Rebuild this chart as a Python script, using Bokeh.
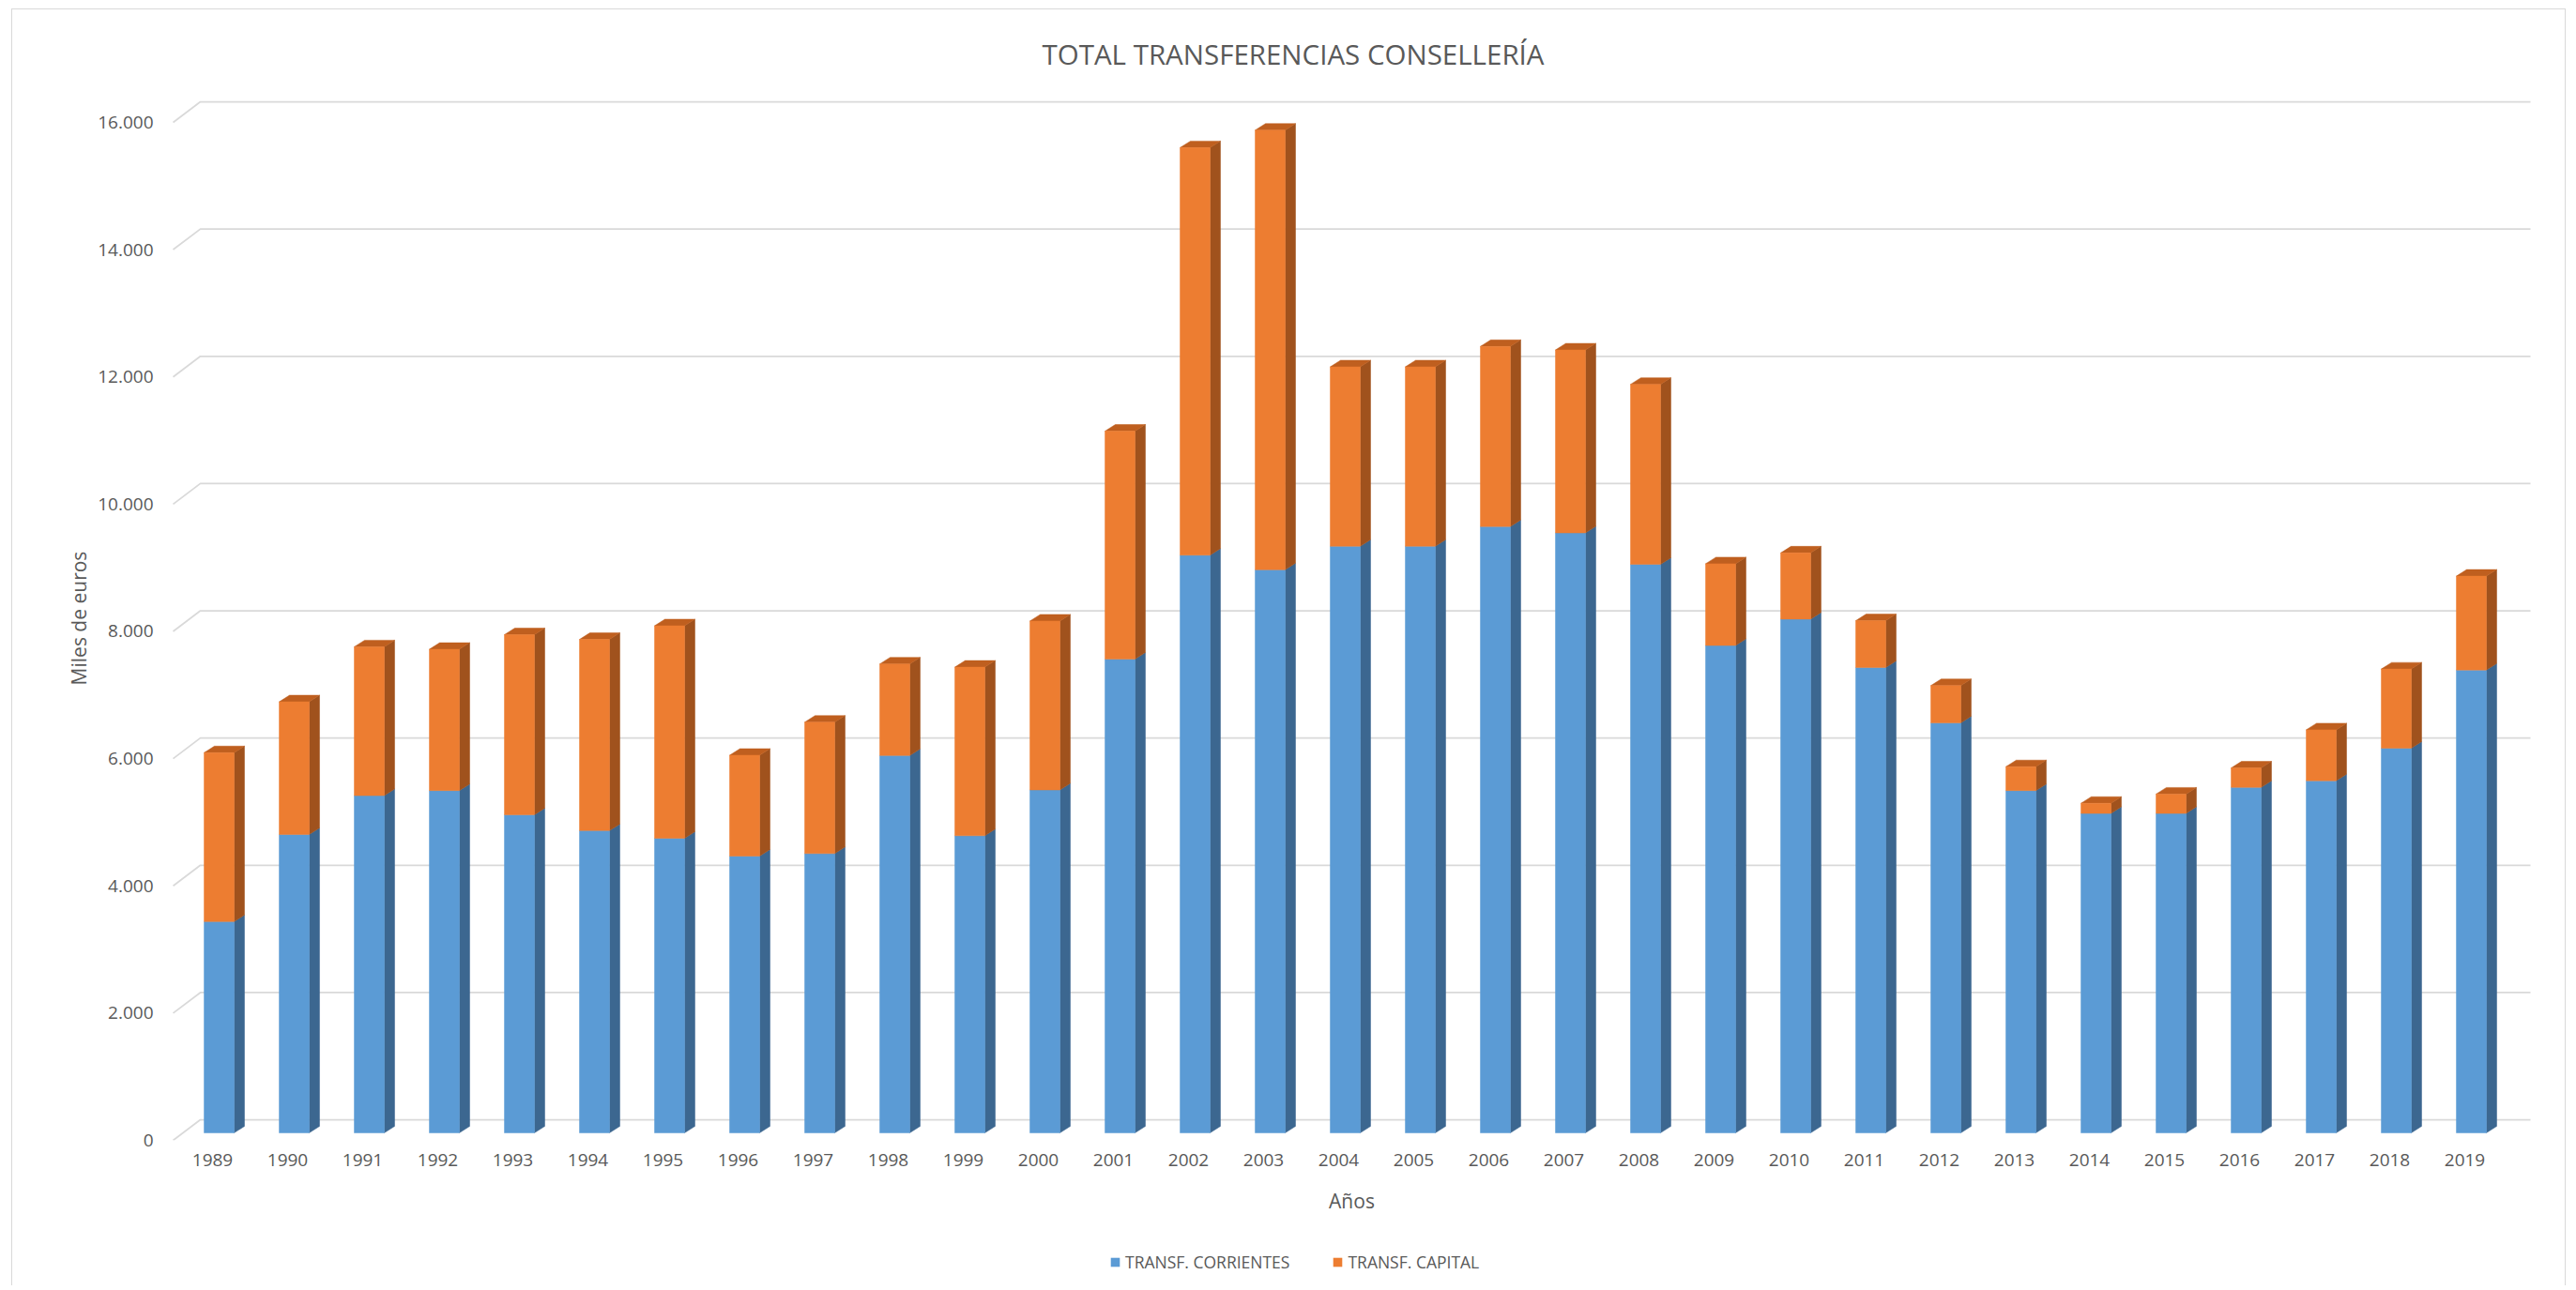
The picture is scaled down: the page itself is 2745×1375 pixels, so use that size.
from bokeh.plotting import figure
from bokeh.layouts import column
from bokeh.models import FixedTicker, Legend, LegendItem, Range1d, ColumnDataSource
from bokeh.embed import file_html
from bokeh.resources import INLINE

# ---------------- data ----------------
years = ["1989", "1990", "1991", "1992", "1993", "1994", "1995", "1996", "1997", "1998",
         "1999", "2000", "2001", "2002", "2003", "2004", "2005", "2006", "2007", "2008",
         "2009", "2010", "2011", "2012", "2013", "2014", "2015", "2016", "2017", "2018", "2019"]
corrientes = [3320, 4690, 5300, 5380, 5000, 4750, 4630, 4350, 4390, 5930,
              4670, 5390, 7445, 9080, 8850, 9220, 9220, 9530, 9430, 8935,
              7660, 8075, 7315, 6445, 5380, 5020, 5020, 5430, 5535, 6045, 7275]
capital = [2655, 2085, 2340, 2220, 2830, 3005, 3340, 1585, 2065, 1440,
           2650, 2655, 3585, 6405, 6910, 2820, 2820, 2830, 2875, 2830,
           1285, 1040, 735, 585, 375, 160, 305, 305, 800, 1245, 1475]
y_ticks = [0, 2000, 4000, 6000, 8000, 10000, 12000, 14000, 16000]
y_tick_labels = ["0", "2.000", "4.000", "6.000", "8.000", "10.000", "12.000", "14.000", "16.000"]
series_names = ["TRANSF. CORRIENTES", "TRANSF. CAPITAL"]
chart_title = "TOTAL TRANSFERENCIAS CONSELLERÍA"

# ---------------- styling / 3D geometry (data units) ----------------
BLUE, BLUE_SIDE = "#5B9BD5", "#3C6790"
ORANGE, ORANGE_SIDE, ORANGE_TOP = "#ED7D31", "#A0521D", "#BF5F1F"
GRID = "#D9D9D9"
TXT = "#595959"
FONT = "Open Sans"

X0, X1 = -0.55, 30.9
Y0, Y1 = 0, 16412
WALL_DX, WALL_DY = 0.3625, 323.5     # depth of back wall
BAR_DX, BAR_DY = 0.1375, 103         # depth of each bar
BASE = 118                            # bar base in front of the wall
FL, FR = -0.1125, 0.2875              # front face extents around category

W = 2720
H_MAIN, H_LEG = 1310, 50

n = len(years)
xs = list(range(n))

p = figure(width=W, height=H_MAIN, output_backend="svg", toolbar_location=None,
           x_range=Range1d(X0, X1), y_range=Range1d(Y0, Y1),
           min_border_left=169, min_border_right=35, min_border_top=89, min_border_bottom=105,
           title=chart_title)
p.outline_line_color = None
p.xgrid.visible = False
p.ygrid.visible = False
p.background_fill_color = "white"

# title
p.title.align = "left"
p.title.text_font = FONT
p.title.text_font_size = "29.5px"
p.title.text_font_style = "normal"
p.title.text_color = TXT
p.title.standoff = 49
p.title.offset = 928

# back wall gridlines + left wall diagonals
gx, gy = [], []
for t in y_ticks:
    gx.append([X0 + 0.025, X0 + 0.025 + WALL_DX, 30.875])
    gy.append([t, t + WALL_DY, t + WALL_DY])
p.multi_line(gx, gy, line_color=GRID, line_width=1.75)

# bars
L = [x + FL for x in xs]
R = [x + FR for x in xs]
b0 = [BASE for _ in xs]
b1 = [BASE + c for c in corrientes]
b2 = [BASE + c + k for c, k in zip(corrientes, capital)]

src = ColumnDataSource(dict(L=L, R=R, b0=b0, b1=b1, b2=b2))

def side(bot, top):
    px, py = [], []
    for r, b, t in zip(R, bot, top):
        px.append([r, r + BAR_DX, r + BAR_DX, r])
        py.append([b, b + BAR_DY, t + BAR_DY, t])
    return px, py

sx, sy = side(b0, b1)
p.patches(sx, sy, fill_color=BLUE_SIDE, line_color=BLUE_SIDE, line_width=0.5)
sx, sy = side(b1, b2)
p.patches(sx, sy, fill_color=ORANGE_SIDE, line_color=ORANGE_SIDE, line_width=0.5)
tx, ty = [], []
for l, r, t in zip(L, R, b2):
    tx.append([l, l + BAR_DX, r + BAR_DX, r])
    ty.append([t, t + BAR_DY, t + BAR_DY, t])
p.patches(tx, ty, fill_color=ORANGE_TOP, line_color=ORANGE_TOP, line_width=0.5)

p.quad(left="L", right="R", bottom="b0", top="b1", source=src,
       fill_color=BLUE, line_color=BLUE, line_width=0.5)
p.quad(left="L", right="R", bottom="b1", top="b2", source=src,
       fill_color=ORANGE, line_color=ORANGE, line_width=0.5)

# axes
p.xaxis.ticker = FixedTicker(ticks=xs)
p.xaxis.major_label_overrides = {i: y for i, y in enumerate(years)}
p.yaxis.ticker = FixedTicker(ticks=y_ticks)
p.yaxis.major_label_overrides = {t: s for t, s in zip(y_ticks, y_tick_labels)}
for ax in (p.xaxis[0], p.yaxis[0]):
    ax.axis_line_color = None
    ax.major_tick_line_color = None
    ax.minor_tick_line_color = None
    ax.major_tick_out = 0
    ax.major_tick_in = 0
    ax.major_label_text_font = FONT
    ax.major_label_text_font_size = "19px"
    ax.major_label_text_color = TXT
    ax.axis_label_text_font = FONT
    ax.axis_label_text_font_size = "21px"
    ax.axis_label_text_font_style = "normal"
    ax.axis_label_text_color = TXT
p.xaxis.axis_label = "Años"
p.xaxis.major_label_standoff = 14
p.xaxis.axis_label_standoff = 20
p.yaxis.axis_label = "Miles de euros"
p.yaxis.major_label_standoff = 19
p.yaxis.axis_label_standoff = 3

# legend strip (separate small figure below the chart)
p2 = figure(width=W, height=H_LEG, output_backend="svg", toolbar_location=None,
            x_range=Range1d(0, W), y_range=Range1d(0, H_LEG),
            x_axis_location=None, y_axis_location=None, min_border=0)
p2.outline_line_color = None
p2.grid.visible = False
lb = p2.quad(left=[0], right=[0], bottom=[0], top=[0], fill_color=BLUE, line_color=None)
lo = p2.quad(left=[0], right=[0], bottom=[0], top=[0], fill_color=ORANGE, line_color=None)
legend = Legend(items=[LegendItem(label=series_names[0], renderers=[lb]),
                       LegendItem(label=series_names[1], renderers=[lo])],
                orientation="horizontal", location=(1000, 13),
                glyph_width=12, glyph_height=12, label_standoff=5, spacing=45,
                label_text_font=FONT, label_text_font_size="17.5px", label_text_color=TXT,
                border_line_color=None, background_fill_alpha=0, padding=0, margin=0)
p2.add_layout(legend, "center")

layout = column(p, p2, spacing=0,
                styles={"margin-left": "12px", "margin-top": "9px",
                        "border-top": "1px solid #d9d9d9", "border-left": "1px solid #d9d9d9",
                        "border-right": "1px solid #d9d9d9"})

open("out.html", "w").write(file_html(layout, INLINE))
